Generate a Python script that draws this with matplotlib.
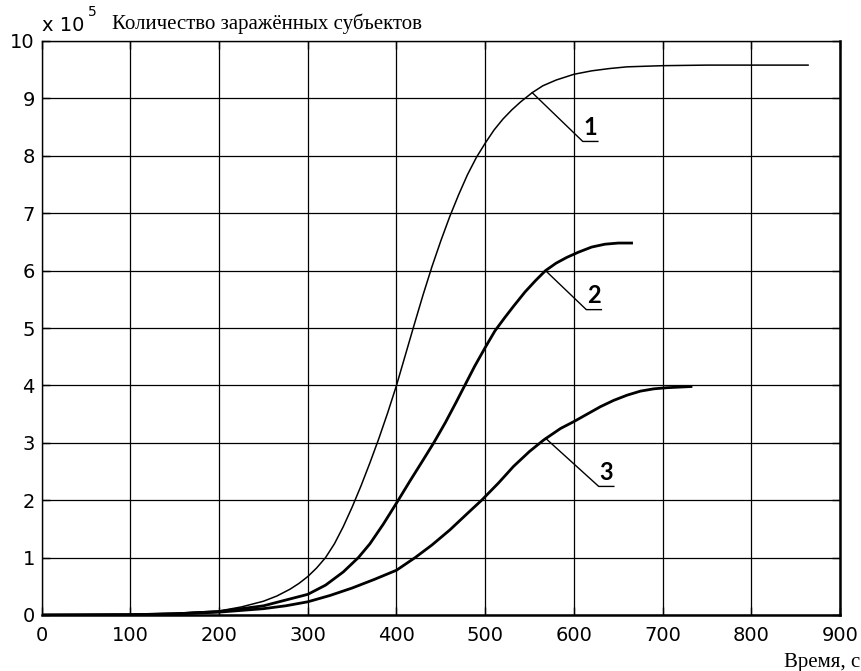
import matplotlib.pyplot as plt

# Time, s
t1 = [0, 100, 150, 200, 225, 250, 265, 280, 290, 300, 310, 320, 330, 340, 350, 360, 370, 380,
      390, 400, 410, 420, 430, 440, 450, 460, 470, 480, 490, 500, 510, 520, 530, 540, 553, 565,
      580, 600, 620, 640, 660, 700, 750, 800, 864]
# Curve 1, x 10^5
y1 = [0, 0.01, 0.03, 0.07, 0.14, 0.24, 0.33, 0.45, 0.55, 0.67, 0.82, 1.0, 1.24, 1.54, 1.88,
      2.25, 2.65, 3.07, 3.52, 4.0, 4.53, 5.06, 5.58, 6.07, 6.52, 6.94, 7.32, 7.67, 7.97, 8.22,
      8.45, 8.64, 8.8, 8.94, 9.1, 9.22, 9.32, 9.42, 9.48, 9.52, 9.55, 9.57, 9.58, 9.58, 9.58]

t2 = [0, 100, 150, 200, 250, 300, 320, 340, 357, 370, 385, 400, 415, 430, 442, 455, 467, 477,
      488, 500, 511, 522, 532, 545, 557, 568, 580, 592, 605, 620, 635, 650, 665]
y2 = [0, 0.005, 0.02, 0.06, 0.16, 0.36, 0.52, 0.75, 1.0, 1.24, 1.58, 1.95, 2.33, 2.7, 3.0, 3.35,
      3.7, 4.0, 4.33, 4.66, 4.95, 5.18, 5.38, 5.63, 5.83, 6.0, 6.13, 6.23, 6.32, 6.41, 6.46,
      6.48, 6.48]

t3 = [0, 100, 150, 200, 250, 275, 300, 325, 350, 375, 400, 421, 440, 460, 480, 496, 515, 532,
      550, 566, 585, 600, 615, 630, 645, 660, 675, 690, 705, 732]
y3 = [0, 0.005, 0.02, 0.05, 0.11, 0.16, 0.23, 0.34, 0.47, 0.62, 0.78, 1.0, 1.22, 1.48, 1.77,
      2.0, 2.3, 2.59, 2.85, 3.05, 3.25, 3.37, 3.5, 3.63, 3.74, 3.83, 3.9, 3.94, 3.96, 3.98]

x_ticks = [0, 100, 200, 300, 400, 500, 600, 700, 800, 900]
y_ticks = [0, 1, 2, 3, 4, 5, 6, 7, 8, 9, 10]

# curve labels: (text, point on curve, end of leader, end of underline)
labels = [("1", (553, 9.1), (610, 8.25), (627, 8.25)),
          ("2", (568, 6.0), (614, 5.32), (631, 5.32)),
          ("3", (568, 3.08), (628, 2.24), (645, 2.24))]

W, H = 862, 671
fig = plt.figure(figsize=(W / 100, H / 100), dpi=100, facecolor="white")
ax = fig.add_axes([41.7 / W, 1 - 615 / H, (840 - 41.7) / W, (615 - 41) / H])

ax.plot(t1, y1, color="black", lw=1.1, zorder=3)
ax.plot(t2, y2, color="black", lw=2.0, zorder=3)
ax.plot(t3, y3, color="black", lw=2.0, zorder=3)

for txt, p, e, u in labels:
    ax.plot([p[0], e[0], u[0]], [p[1], e[1], u[1]], color="black", lw=1.0, zorder=3)
    ax.text((e[0] + u[0]) / 2, e[1] + 0.05, txt, ha="center", va="bottom",
            fontsize=17, fontweight="bold", family="Lato", zorder=4)

ax.set_xlim(0, 900)
ax.set_ylim(0, 10)
ax.set_xticks(x_ticks)
ax.set_yticks(y_ticks)
ax.grid(True, color="black", lw=0.9)
ax.set_axisbelow(True)
ax.tick_params(axis="x", pad=8)
ax.tick_params(direction="in", length=6, width=1, labelsize=14,
               top=True, right=True, colors="black")
ax.tick_params(axis="y", pad=5)
for s in ax.spines.values():
    s.set_linewidth(1.0)
ax.spines["bottom"].set_linewidth(1.8)
ax.spines["right"].set_linewidth(1.8)

fig.text(42 / W, 1 - 31 / H, "x 10", fontsize=14, ha="left", va="baseline")
fig.text(88 / W, 1 - 16 / H, "5", fontsize=10, ha="left", va="baseline")
fig.text(112 / W, 1 - 29 / H, "Количество заражённых субъектов", fontsize=15,
         family="Liberation Serif", ha="left", va="baseline")
fig.text(860 / W, 1 - 667 / H, "Время, с", fontsize=15,
         family="Liberation Serif", ha="right", va="baseline")

fig.savefig("out.png", dpi=100)
